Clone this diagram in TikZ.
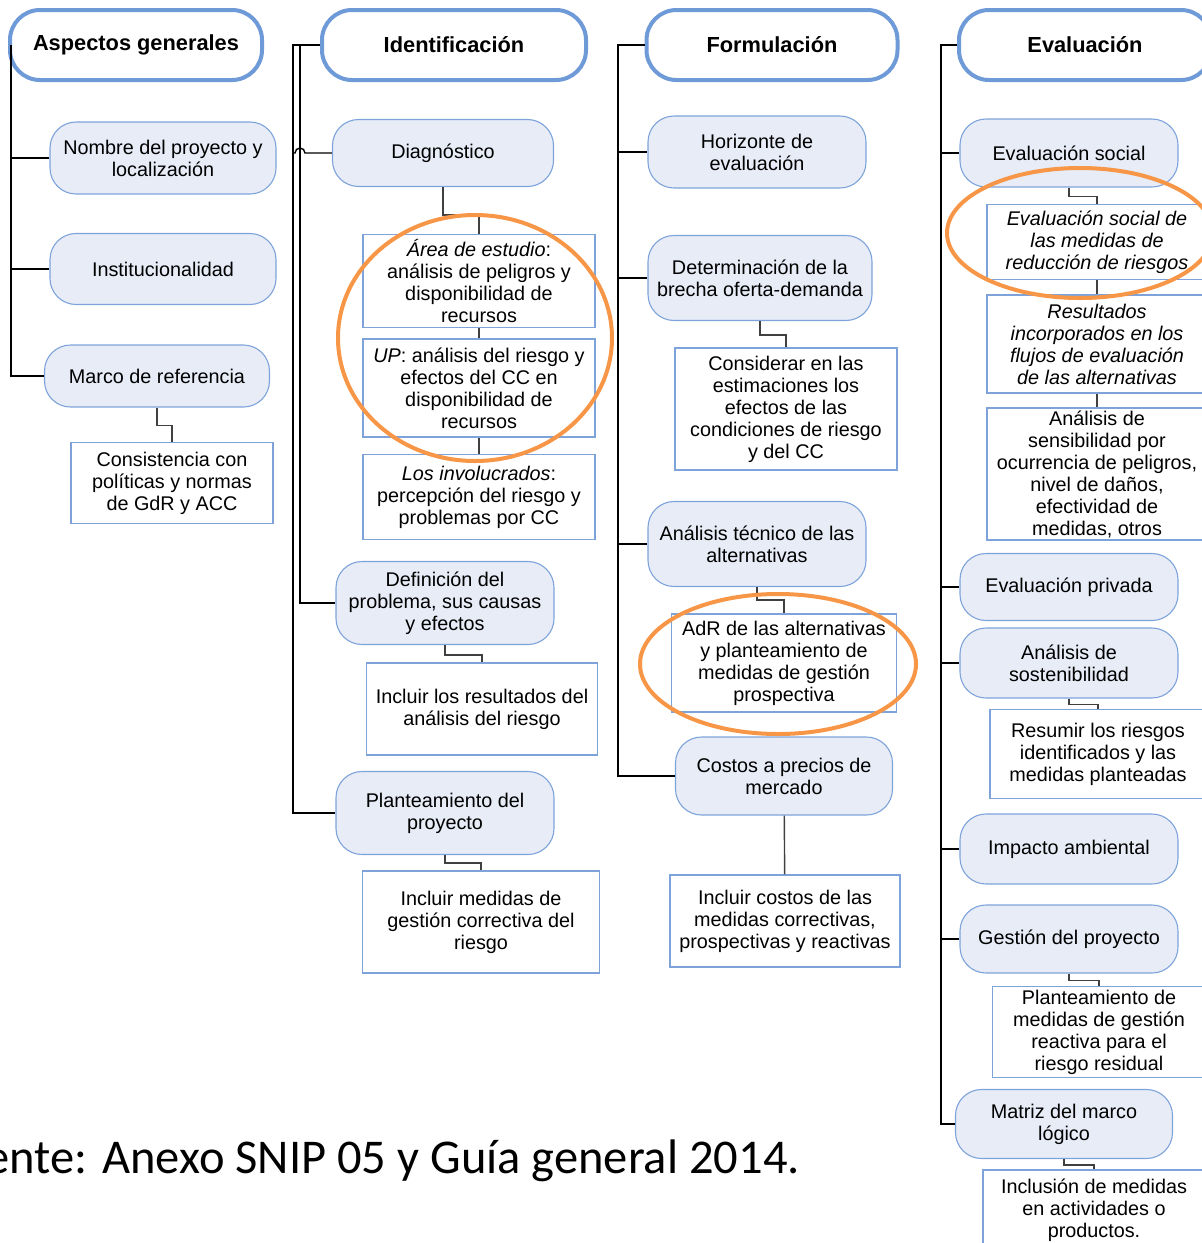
\documentclass[tikz,border=0pt]{standalone}
\usepackage{fontspec}
\setmainfont{Liberation Sans}
\newfontfamily\notefont{Carlito}
\usepackage{tikz}

\definecolor{boxfill}{RGB}{231,236,247}
\definecolor{boxline}{RGB}{126,163,219}
\definecolor{titleline}{RGB}{111,154,216}
\definecolor{ringorange}{RGB}{247,150,70}
\definecolor{linkgray}{RGB}{64,64,64}

\begin{document}
\begin{tikzpicture}[x=1pt,y=-1pt,
    font=\fontsize{19.8}{22}\selectfont,
    titlebox/.style={draw=titleline, line width=4pt, fill=white, rounded corners=30pt,
        minimum height=70pt, font=\fontsize{21.8}{24}\selectfont\bfseries},
    stage/.style={draw=boxline, line width=1.1pt, fill=boxfill, rounded corners=26pt,
        align=center, inner sep=2pt},
    note/.style={draw=boxline, line width=1.1pt, fill=white, align=center, inner sep=2pt},
    trunk/.style={black, line width=1.4pt},
    link/.style={linkgray, line width=1.4pt},
    ring/.style={draw=ringorange, line width=4pt}]
        \useasboundingbox (0,0) rectangle (1202,1243);

        % Aspectos generales
        \node[titlebox, minimum width=252pt] (asp) at (136,45) {Aspectos generales};
        \node[stage, minimum width=226pt, minimum height=72pt] (nombre) at (163,158) {Nombre del proyecto y\\localización};
        \node[stage, minimum width=226pt, minimum height=71pt] (instit) at (163,269) {Institucionalidad};
        \node[stage, minimum width=225pt, minimum height=62pt] (marco) at (157,376) {Marco de referencia};
        \node[note, minimum width=202pt, minimum height=81pt] (consist) at (172,483) {Consistencia con\\políticas y normas\\de GdR y ACC};

        \coordinate (t1) at (11,45);
        \draw[trunk] (t1) |- (nombre.west);
        \draw[trunk] (t1) |- (instit.west);
        \draw[trunk] (t1) |- (marco.west);
        \draw[link] (marco.south) -- ++(0,18) -| (consist.north);

        % Identificacion
        \node[titlebox, minimum width=264pt] (idt) at (454,45) {Identificación};
        \node[stage, minimum width=221pt, minimum height=67pt] (diag) at (443,153) {Diagnóstico};
        \node[note, minimum width=232pt, minimum height=93pt] (area) at (479,281) {\textit{Área de estudio}:\\análisis de peligros y\\disponibilidad de\\recursos};
        \node[note, minimum width=232pt, minimum height=98pt] (up) at (479,388) {\textit{UP}: análisis del riesgo y\\efectos del CC en\\disponibilidad de\\recursos};
        \node[note, minimum width=232pt, minimum height=85pt] (invol) at (479,497) {\textit{Los involucrados}:\\percepción del riesgo y\\problemas por CC};
        \node[stage, minimum width=218pt, minimum height=83pt] (defin) at (445,603) {Definición del\\problema, sus causas\\y efectos};
        \node[note, minimum width=231pt, minimum height=92pt] (inclres) at (482,709) {Incluir los resultados del\\análisis del riesgo};
        \node[stage, minimum width=218pt, minimum height=83pt] (plant) at (445,813) {Planteamiento del\\proyecto};
        \node[note, minimum width=237pt, minimum height=102pt] (inclmed) at (481,922) {Incluir medidas de\\gestión correctiva del\\riesgo};

        \coordinate (t2) at (293,45);
        \coordinate (t2b) at (300,45);
        \draw[trunk] (idt.west) -- (t2) |- (plant.west);
        \draw[trunk] (t2b) |- (defin.west);
        \draw[trunk] (t2 |- diag.west) -- ++(2,0) arc (180:360:5) -- (diag.west);
        \draw[link] (diag.south) -- ++(0,28) -| (area.north);
        \draw[link] (area) -- (up);
        \draw[link] (up) -- (invol);
        \draw[link] (defin.south) -- ++(0,10) -| (inclres.north);
        \draw[link] (plant.south) -- ++(0,8) -| (inclmed.north);

        % Formulacion
        \node[titlebox, minimum width=251pt] (frm) at (772,45) {Formulación};
        \node[stage, minimum width=218pt, minimum height=72pt] (horiz) at (757,152) {Horizonte de\\evaluación};
        \node[stage, minimum width=224pt, minimum height=85pt] (brecha) at (760,278) {Determinación de la\\brecha oferta-demanda};
        \node[note, minimum width=222pt, minimum height=122pt] (consid) at (786,409) {Considerar en las\\estimaciones los\\efectos de las\\condiciones de riesgo\\y del CC};
        \node[stage, minimum width=218pt, minimum height=85pt] (tecnico) at (757,544) {Análisis técnico de las\\alternativas};
        \node[note, minimum width=225pt, minimum height=98pt] (adr) at (784,663) {AdR de las alternativas\\y planteamiento de\\medidas de gestión\\prospectiva};
        \node[stage, minimum width=217pt, minimum height=78pt] (costos) at (784,776) {Costos a precios de\\mercado};
        \node[note, minimum width=230pt, minimum height=92pt] (inclcost) at (785,921) {Incluir costos de las\\medidas correctivas,\\prospectivas y reactivas};

        \coordinate (t3) at (618,45);
        \draw[trunk] (frm.west) -- (t3) |- (costos.west);
        \draw[trunk] (t3) |- (horiz.west);
        \draw[trunk] (t3) |- (brecha.west);
        \draw[trunk] (t3) |- (tecnico.west);
        \draw[link] (brecha.south) -- ++(0,14) -| (consid.north);
        \draw[link] (tecnico.south) -- ++(0,13) -| (adr.north);
        \draw[link] (costos) -- (inclcost);

        % Evaluacion
        \node[titlebox, minimum width=252pt] (evl) at (1085,45) {Evaluación};
        \node[stage, minimum width=218pt, minimum height=68pt] (evsoc) at (1069,153) {Evaluación social};
        \node[note, minimum width=220pt, minimum height=75pt, font=\fontsize{19.8}{22}\selectfont\itshape] (evmed) at (1097,242) {Evaluación social de\\las medidas de\\reducción de riesgos};
        \node[note, minimum width=220pt, minimum height=98pt, font=\fontsize{19.8}{22}\selectfont\itshape] (result) at (1097,344) {Resultados\\incorporados en los\\flujos de evaluación\\de las alternativas};
        \node[note, minimum width=220pt, minimum height=132pt] (sensib) at (1097,474) {Análisis de\\sensibilidad por\\ocurrencia de peligros,\\nivel de daños,\\efectividad de\\medidas, otros};
        \node[stage, minimum width=218pt, minimum height=67pt] (evpriv) at (1069,587) {Evaluación privada};
        \node[stage, minimum width=218pt, minimum height=70pt] (sosten) at (1069,663) {Análisis de\\sostenibilidad};
        \node[note, minimum width=216pt, minimum height=89pt] (resumir) at (1098,754) {Resumir los riesgos\\identificados y las\\medidas planteadas};
        \node[stage, minimum width=218pt, minimum height=70pt] (impacto) at (1069,849) {Impacto ambiental};
        \node[stage, minimum width=218pt, minimum height=68pt] (gestion) at (1069,939) {Gestión del proyecto};
        \node[note, minimum width=213pt, minimum height=91pt] (reactiva) at (1099,1032) {Planteamiento de\\medidas de gestión\\reactiva para el\\riesgo residual};
        \node[stage, minimum width=217pt, minimum height=69pt] (matriz) at (1064,1124) {Matriz del marco\\lógico};
        \node[note, minimum width=222pt, minimum height=80pt] (inclusion) at (1094,1210) {Inclusión de medidas\\en actividades o\\productos.};

        \coordinate (t4) at (941,45);
        \draw[trunk] (evl.west) -- (t4) |- (matriz.west);
        \draw[trunk] (t4) |- (evsoc.west);
        \draw[trunk] (t4) |- (evpriv.west);
        \draw[trunk] (t4) |- (sosten.west);
        \draw[trunk] (t4) |- (impacto.west);
        \draw[trunk] (t4) |- (gestion.west);
        \draw[link] (evsoc.south) -- ++(0,9) -| (evmed.north);
        \draw[link] (evmed) -- (result);
        \draw[link] (result) -- (sensib);
        \draw[link] (sosten.south) -- ++(0,6) -| (resumir.north);
        \draw[link] (gestion.south) -- ++(0,7) -| (reactiva.north);
        \draw[link] (matriz.south) -- ++(0,6) -| (inclusion.north);

        % Riesgo marcado
        \draw[ring] (475,338) ellipse [x radius=137pt, y radius=123pt];
        \draw[ring] (778,664) ellipse [x radius=138pt, y radius=70pt];
        \draw[ring] (1080,233) ellipse [x radius=133pt, y radius=65pt];

        % Fuente
        \node[anchor=base east, font=\notefont\fontsize{48.5}{52}\selectfont, inner sep=0pt] (fuente) at (800,1173) {Fuente: Anexo SNIP 05 y Guía general 2014.};
\end{tikzpicture}
\end{document}
